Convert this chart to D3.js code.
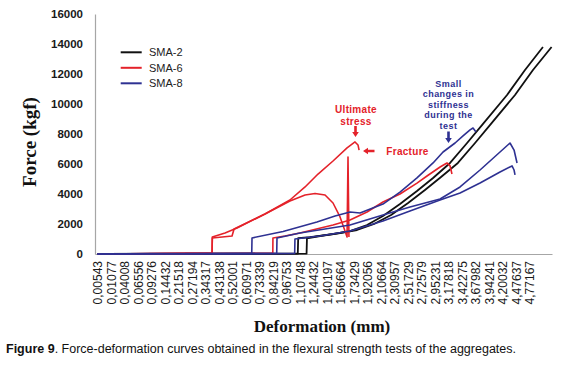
<!DOCTYPE html>
<html>
<head>
<meta charset="utf-8">
<script src="https://cdn.jsdelivr.net/npm/d3@7/dist/d3.min.js"></script>
<style>
  html, body { margin: 0; padding: 0; background: #fff; }
  svg { display: block; }
</style>
</head>
<body>
<svg id="chart" width="580" height="380"></svg>
<script>
// ---------- DATA ----------
// x tick labels (deformation, mm) – category axis
const tickLabels = ["0,00543","0,01077","0,04008","0,06556","0,09276","0,14432","0,21518","0,27194","0,34317",
  "0,43138","0,52001","0,60971","0,73339","0,84219","0,96753","1,10748","1,24432","1,40197","1,56664",
  "1,73429","1,92056","2,10664","2,30957","2,51729","2,72579","2,95231","3,17818","3,42275","3,67982",
  "3,94241","4,20032","4,47637","4,77167"];
const yTicks = [0, 2000, 4000, 6000, 8000, 10000, 12000, 14000, 16000];
const seriesNames = ["SMA-2", "SMA-6", "SMA-8"];

// positions along the category axis (label index units) and force (kgf)
const sma2A_x = [0, 14.85, 14.88, 15.76, 17.46, 18.72, 19.98, 21.16, 22.42, 23.68, 24.87, 26.13, 27.39, 28.57, 30.35, 31.68, 33.01];
const sma2A_y = [0, 20, 1050, 1130, 1330, 1530, 1930, 2530, 3330, 4200, 5070, 6070, 7400, 8670, 10600, 12270, 13800];
const sma2B_x = [0, 15.5, 15.53, 16.5, 17.98, 19.24, 20.5, 21.76, 23.02, 24.27, 25.46, 26.71, 27.98, 29.16, 30.94, 32.27, 33.65];
const sma2B_y = [0, 20, 1050, 1200, 1400, 1600, 2000, 2600, 3400, 4270, 5130, 6070, 7400, 8670, 10600, 12270, 13800];

const sma6A_x = [0, 6.87, 8.5, 8.52, 9.46, 10.35, 12.42, 14.27, 15.39, 16.35, 17.46, 18.5, 19.09, 19.31, 19.39];
const sma6A_y = [0, 40, 60, 1130, 1400, 1730, 2670, 3600, 4470, 5330, 6200, 7070, 7470, 7270, 6930];
const sma6B_x = [0, 6.87, 8.5, 8.52, 9.98, 10.13, 12.42, 14.27, 15.39, 16.13, 16.87, 17.46, 17.98, 18.27, 18.5, 18.57, 18.64];
const sma6B_y = [0, 40, 60, 1070, 1200, 1670, 2670, 3530, 3930, 4030, 3930, 3400, 2470, 1730, 1130, 6470, 1130];
const sma6C_x = [0, 6.87, 13.0, 13.01, 13.9, 15.01, 17.46, 18.72, 19.98, 21.16, 22.42, 23.68, 24.42, 25.39, 25.9, 26.13, 26.27];
const sma6C_y = [0, 30, 50, 1070, 1200, 1400, 1930, 2270, 2800, 3470, 4000, 4730, 5200, 5800, 6070, 5870, 5330];

const sma8A_x = [0, 3.92, 11.44, 11.46, 13.76, 16.27, 17.61, 18.72, 19.46, 21.16, 22.42, 23.68, 24.87, 25.61, 26.5, 27.09, 27.61, 27.83, 28.05];
const sma8A_y = [0, 30, 40, 1070, 1500, 2130, 2530, 2800, 2730, 3330, 4130, 5070, 6070, 6800, 7400, 7870, 8270, 8400, 8130];
const sma8B_x = [0, 13.29, 13.31, 15.01, 18.72, 21.16, 23.16, 25.39, 26.87, 28.35, 29.83, 30.57, 30.87, 31.09];
const sma8B_y = [0, 30, 1070, 1400, 1930, 2600, 3130, 3670, 4470, 5600, 6800, 7400, 6930, 6070];
const sma8C_x = [0, 14.62, 14.64, 16.5, 18.72, 21.16, 23.16, 25.39, 26.87, 28.35, 29.83, 30.72, 30.87, 30.94];
const sma8C_y = [0, 30, 1000, 1200, 1530, 2200, 2870, 3600, 4070, 4730, 5470, 5870, 5600, 5270];

// ---------- STYLE ----------
const colors = { "SMA-2": "#111111", "SMA-6": "#e4222a", "SMA-8": "#2e3192" };
const curves = [
  { s: "SMA-2", x: sma2A_x, y: sma2A_y },
  { s: "SMA-2", x: sma2B_x, y: sma2B_y },
  { s: "SMA-6", x: sma6A_x, y: sma6A_y },
  { s: "SMA-6", x: sma6B_x, y: sma6B_y },
  { s: "SMA-6", x: sma6C_x, y: sma6C_y },
  { s: "SMA-8", x: sma8A_x, y: sma8A_y },
  { s: "SMA-8", x: sma8B_x, y: sma8B_y },
  { s: "SMA-8", x: sma8C_x, y: sma8C_y }
];

const svg = d3.select("#chart");
svg.append("rect").attr("width", 580).attr("height", 380).attr("fill", "#fff");

const x = d3.scaleLinear().domain([-0.17, 33.68]).range([95, 552]);
const y = d3.scaleLinear().domain([0, 16000]).range([254, 14]);

const sans = "'Liberation Sans', Arial, sans-serif";
const serif = "'Liberation Serif', 'Times New Roman', serif";

// axes
const yAxis = d3.axisLeft(y).tickValues(yTicks).tickSize(0).tickPadding(12).tickFormat(d3.format("d"));
const gy = svg.append("g").attr("transform", "translate(95,0)").call(yAxis);
gy.select(".domain").attr("stroke", "#a6a6a6").attr("stroke-width", 1.2);
gy.selectAll("text").attr("font-family", sans).attr("font-weight", "bold").attr("font-size", 11.5).attr("fill", "#1a1a1a");

const xAxis = d3.axisBottom(x).tickValues(d3.range(tickLabels.length)).tickSize(0).tickFormat(i => tickLabels[i]);
const gx = svg.append("g").attr("transform", "translate(0,254)").call(xAxis);
gx.select(".domain").attr("stroke", "#a6a6a6").attr("stroke-width", 1.2);
gx.selectAll("text")
  .attr("font-family", sans).attr("font-size", 12).attr("fill", "#1a1a1a")
  .attr("text-anchor", "end")
  .attr("transform", "rotate(-90)")
  .attr("x", -7).attr("y", 0).attr("dy", "0.36em");

// curves
const line = d3.line().x(d => x(d[0])).y(d => y(d[1]));
const gl = svg.append("g");
curves.forEach(c => {
  const pts = c.x.map((v, i) => [v, c.y[i]]);
  gl.append("path").datum(pts).attr("d", line)
    .attr("fill", "none").attr("stroke", colors[c.s])
    .attr("stroke-width", c.s === "SMA-2" ? 1.8 : 1.6)
    .attr("stroke-linejoin", "round");
});

// legend
const lg = svg.append("g");
seriesNames.forEach((n, i) => {
  const yy = 52.3 + i * 15.5;
  lg.append("line").attr("x1", 120.7).attr("x2", 141.7).attr("y1", yy).attr("y2", yy)
    .attr("stroke", colors[n]).attr("stroke-width", 2);
  lg.append("text").attr("x", 149).attr("y", yy).attr("dy", "0.35em")
    .attr("font-family", sans).attr("font-size", 11).attr("fill", "#222").text(n);
});

// axis titles
svg.append("text").attr("transform", "translate(36,142) rotate(-90)")
  .attr("text-anchor", "middle").attr("font-family", serif).attr("font-weight", "bold")
  .attr("font-size", 19).attr("fill", "#111").text("Force (kgf)");
svg.append("text").attr("x", 322).attr("y", 332)
  .attr("text-anchor", "middle").attr("font-family", serif).attr("font-weight", "bold")
  .attr("font-size", 17).attr("fill", "#111").text("Deformation (mm)");

// annotations
const red = "#e4222a", navy = "#2e3192";
function annot(lines, cx, y0, lh, color, fs, ls) {
  lines.forEach((l, i) => svg.append("text").attr("font-family", sans).attr("font-weight", "bold")
    .attr("font-size", fs).attr("letter-spacing", ls).attr("fill", color).attr("text-anchor", "middle")
    .attr("x", cx).attr("y", y0 + i * lh).text(l));
}
annot(["Ultimate", "stress"], 356, 113, 11.8, red, 10, 0.3);
annot(["Fracture"], 407.5, 155, 0, red, 10, 0.3);
annot(["Small", "changes in", "stiffness", "during the", "test"], 448.5, 86.8, 10.5, navy, 9, 0.45);

function arrowDown(cx, y1, y2, color) {
  svg.append("path").attr("d",
    `M${cx - 1.3},${y1} L${cx + 1.3},${y1} L${cx + 1.3},${y2 - 5} L${cx + 3.3},${y2 - 5} L${cx},${y2} L${cx - 3.3},${y2 - 5} L${cx - 1.3},${y2 - 5} Z`)
    .attr("fill", color);
}
function arrowLeft(x1, x2, cy, color) {
  svg.append("path").attr("d",
    `M${x1},${cy - 1.3} L${x1},${cy + 1.3} L${x2 + 5},${cy + 1.3} L${x2 + 5},${cy + 3.3} L${x2},${cy} L${x2 + 5},${cy - 3.3} L${x2 + 5},${cy - 1.3} Z`)
    .attr("fill", color);
}
arrowDown(355.5, 126, 137, red);
arrowLeft(374.5, 363, 151, red);
arrowDown(448.5, 131.5, 143, navy);

// caption
const cap = svg.append("text").attr("x", 6).attr("y", 353).attr("font-family", sans)
  .attr("font-size", 12.5).attr("fill", "#111");
cap.append("tspan").attr("font-weight", "bold").text("Figure 9");
cap.append("tspan").text(". Force-deformation curves obtained in the flexural strength tests of the aggregates.");
</script>
</body>
</html>
